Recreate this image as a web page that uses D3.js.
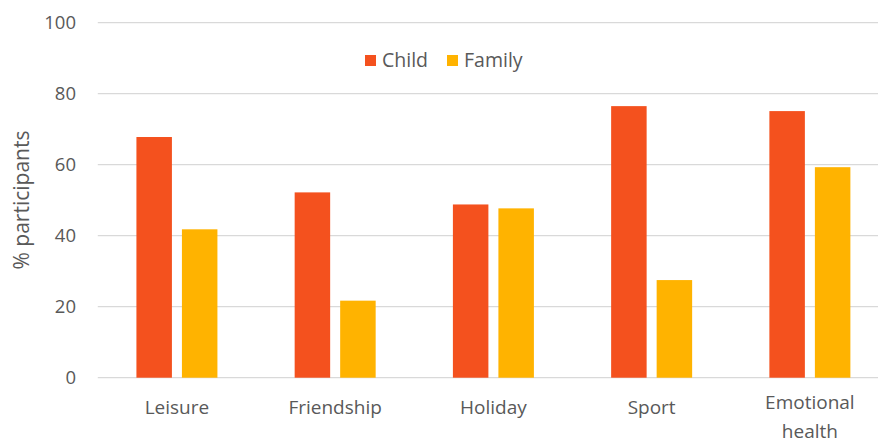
<!DOCTYPE html>
<html>
<head>
<meta charset="utf-8">
<script src="https://cdn.jsdelivr.net/npm/d3@7"></script>
<style>
  body { margin: 0; background: #fff; }
  svg text { font-family: "Open Sans", "Noto Sans", sans-serif; fill: #595959; }
</style>
</head>
<body>
<div id="container"></div>
<script>
// data
var categories = ["Leisure", "Friendship", "Holiday", "Sport", "Emotional health"];
var series = ["Child", "Family"];
var childValues = [67.8, 52.2, 48.8, 76.5, 75.1];
var familyValues = [41.8, 21.7, 47.7, 27.5, 59.3];
var yTicks = [0, 20, 40, 60, 80, 100];
var colors = ["#F4511E", "#FFB300"];

var w = 878, h = 443;

var svg = d3.select("#container").append("svg")
  .attr("width", w)
  .attr("height", h);

var y = d3.scaleLinear().domain([0, 100]).range([377.7, 22.7]);

var x0 = d3.scaleBand().domain(categories).range([97.8, 889]).padding(0);
var x1 = d3.scaleBand().domain(series).range([0, 81]).paddingInner(0.22);

//gridlines
svg.append("g").selectAll("line")
  .data(yTicks)
  .enter().append("line")
  .attr("x1", 97.8)
  .attr("x2", 889)
  .attr("y1", function (d) { return y(d); })
  .attr("y2", function (d) { return y(d); })
  .attr("stroke", "#d9d9d9")
  .attr("stroke-width", 1.3);

//y tick labels
svg.append("g").selectAll("text")
  .data(yTicks)
  .enter().append("text")
  .text(function (d) { return d; })
  .attr("x", 76)
  .attr("y", function (d) { return y(d); })
  .attr("dy", "0.35em")
  .attr("text-anchor", "end")
  .style("font-size", "18.5px");

//y title
svg.append("text")
  .text("% participants")
  .attr("transform", "translate(29,200) rotate(-90)")
  .attr("text-anchor", "middle")
  .style("font-size", "21px");

//bars
var rows = categories.map(function (c, i) {
  return { cat: c, vals: [childValues[i], familyValues[i]] };
});

var groups = svg.append("g").selectAll("g")
  .data(rows)
  .enter().append("g")
  .attr("transform", function (d) {
    return "translate(" + (x0(d.cat) + x0.bandwidth() / 2 - 40.5) + ",0)";
  });

groups.selectAll("rect")
  .data(function (d) { return d.vals.map(function (v, j) { return { s: series[j], v: v, j: j }; }); })
  .enter().append("rect")
  .attr("x", function (d) { return x1(d.s); })
  .attr("y", function (d) { return y(d.v); })
  .attr("width", x1.bandwidth())
  .attr("height", function (d) { return y(0) - y(d.v); })
  .attr("fill", function (d) { return colors[d.j]; });

//category labels
var labels = svg.append("g").selectAll("text")
  .data(categories)
  .enter().append("text")
  .attr("x", function (d) { return x0(d) + x0.bandwidth() / 2; })
  .attr("y", 414)
  .attr("text-anchor", "middle")
  .style("font-size", "19px");

labels.each(function (d) {
  var words = d.split(" ");
  var t = d3.select(this);
  var lines = words.length > 1 ? words : [d];
  lines.forEach(function (line, k) {
    t.append("tspan")
      .attr("x", t.attr("x"))
      .attr("dy", k === 0 ? (lines.length > 1 ? -5 : 0) : 29)
      .text(line);
  });
});

//legend
var legendX = [365, 447];
var legend = svg.append("g").selectAll("g")
  .data(series)
  .enter().append("g")
  .attr("transform", function (d, i) { return "translate(" + legendX[i] + ",55)"; });

legend.append("rect")
  .attr("width", 11)
  .attr("height", 11)
  .attr("fill", function (d, i) { return colors[i]; });

legend.append("text")
  .text(function (d) { return d; })
  .attr("x", 17)
  .attr("y", 12)
  .style("font-size", "19.5px");
</script>
</body>
</html>
